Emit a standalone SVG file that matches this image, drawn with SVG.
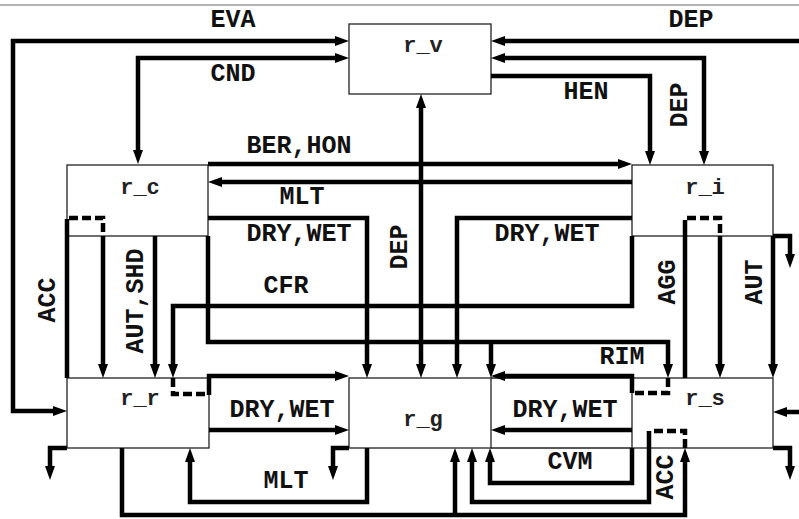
<svg xmlns="http://www.w3.org/2000/svg" width="799" height="519" viewBox="0 0 799 519">
<style>
.box{fill:#fff;stroke:#222;stroke-width:1.3}
.c{fill:none;stroke:#000;stroke-width:4.5}
.d{fill:none;stroke:#000;stroke-width:4.5;stroke-dasharray:9 4}
.t{font-family:"Liberation Mono","Courier New",monospace;font-weight:bold;font-size:25px;fill:#111;text-anchor:middle}
.n{font-family:"Liberation Mono","Courier New",monospace;font-weight:bold;font-size:22px;fill:#222;text-anchor:middle}
.thin{fill:none;stroke:#222;stroke-width:1.3}
</style>
<defs>
<marker id="a" viewBox="0 0 14 10" refX="4" refY="5" markerWidth="14" markerHeight="10" markerUnits="userSpaceOnUse" orient="auto-start-reverse"><path d="M0,0 L14,5 L0,10 z" fill="#000"/></marker>
</defs>
<rect width="799" height="519" fill="#fff"/>
<line x1="0" y1="5" x2="799" y2="5" stroke="#999" stroke-width="1.5"/>
<g id="r_v"><rect class="box" x="349" y="24" width="142" height="70"/><text class="n" x="423" y="52">r_v</text></g>
<g id="r_c"><rect class="box" x="67" y="165" width="141" height="71"/><text class="n" x="140" y="194">r_c</text></g>
<g id="r_i"><rect class="box" x="632" y="165" width="141" height="71"/><text class="n" x="705" y="194">r_i</text></g>
<g id="r_r"><rect class="box" x="67" y="378" width="142" height="70"/><text class="n" x="140" y="405">r_r</text></g>
<g id="r_g"><rect class="box" x="349" y="378" width="142" height="70"/><text class="n" x="423" y="426">r_g</text></g>
<g id="r_s"><rect class="box" x="632" y="378" width="141" height="70"/><text class="n" x="705" y="405">r_s</text></g>
<path class="thin" d="M491,378 H632 M491,448 H632"/>
<g id="connectors">
<path class="c" d="M57,411 H13 V41 H339" marker-start="url(#a)" marker-end="url(#a)"/>
<path class="c" d="M138,154 V58 H339" marker-start="url(#a)" marker-end="url(#a)"/>
<path class="c" d="M799,41 H501" marker-end="url(#a)"/>
<path class="c" d="M501,58 H704 V155" marker-start="url(#a)" marker-end="url(#a)"/>
<path class="c" d="M491,76 H650 V155" marker-end="url(#a)"/>
<path class="c" d="M208,164 H622" marker-end="url(#a)"/>
<path class="c" d="M632,182 H218" marker-end="url(#a)"/>
<path class="c" d="M208,218 H367 V368" marker-end="url(#a)"/>
<path class="c" d="M208,236 V342 H668 V368" marker-end="url(#a)"/>
<path class="c" d="M491,342 V368" marker-end="url(#a)"/>
<path class="d" d="M668,378 V393 H634"/>
<path class="c" d="M632,393 V376 H501" marker-end="url(#a)"/>
<path class="c" d="M632,218 H457 V368" marker-end="url(#a)"/>
<path class="c" d="M632,236 V306 H173 V368" marker-end="url(#a)"/>
<path class="d" d="M173,378 V394 H207"/>
<path class="c" d="M209,395 V376 H339" marker-end="url(#a)"/>
<path class="c" d="M421,104 V368" marker-start="url(#a)" marker-end="url(#a)"/>
<path class="c" d="M67,378 V219"/>
<path class="d" d="M69,218 H103 V236"/>
<path class="c" d="M103,236 V368" marker-end="url(#a)"/>
<path class="c" d="M155,236 V368" marker-end="url(#a)"/>
<path class="c" d="M67,448 H50 V470" marker-end="url(#a)"/>
<path class="c" d="M209,430 H339" marker-end="url(#a)"/>
<path class="c" d="M367,448 V502 H190 V458" marker-end="url(#a)"/>
<path class="c" d="M349,448 H333 V470" marker-end="url(#a)"/>
<path class="c" d="M122,448 V515 H685 V458" marker-end="url(#a)"/>
<path class="c" d="M455,515 V458" marker-end="url(#a)"/>
<path class="d" d="M685,448 V431 H651"/>
<path class="c" d="M649,431 V502 H472 V458" marker-end="url(#a)"/>
<path class="c" d="M632,448 V483 H490 V458" marker-end="url(#a)"/>
<path class="c" d="M632,430 H501" marker-end="url(#a)"/>
<path class="c" d="M799,412 H783" marker-end="url(#a)"/>
<path class="c" d="M773,448 H790 V470" marker-end="url(#a)"/>
<path class="c" d="M773,236 V368" marker-end="url(#a)"/>
<path class="c" d="M773,236 H790 V258" marker-end="url(#a)"/>
<path class="c" d="M685,378 V220"/>
<path class="d" d="M687,218 H720 V236"/>
<path class="c" d="M720,236 V368" marker-end="url(#a)"/>
</g>
<g id="labels">
<text class="t" x="233" y="27">EVA</text>
<text class="t" x="691" y="27">DEP</text>
<text class="t" x="233" y="81">CND</text>
<text class="t" x="586" y="99">HEN</text>
<text class="t" x="299" y="153">BER,HON</text>
<text class="t" x="302" y="204">MLT</text>
<text class="t" x="299" y="241">DRY,WET</text>
<text class="t" x="547" y="241">DRY,WET</text>
<text class="t" x="286" y="293">CFR</text>
<text class="t" x="622" y="364">RIM</text>
<text class="t" x="282" y="417">DRY,WET</text>
<text class="t" x="565" y="417">DRY,WET</text>
<text class="t" x="286" y="488">MLT</text>
<text class="t" x="570" y="469">CVM</text>
<text class="t" transform="translate(55,300) rotate(-90)">ACC</text>
<text class="t" transform="translate(143,301) rotate(-90)">AUT,SHD</text>
<text class="t" transform="translate(407,247) rotate(-90)">DEP</text>
<text class="t" transform="translate(687,105) rotate(-90)">DEP</text>
<text class="t" transform="translate(675,282) rotate(-90)">AGG</text>
<text class="t" transform="translate(762,282) rotate(-90)">AUT</text>
<text class="t" transform="translate(673,477) rotate(-90)">ACC</text>
</g>
</svg>
